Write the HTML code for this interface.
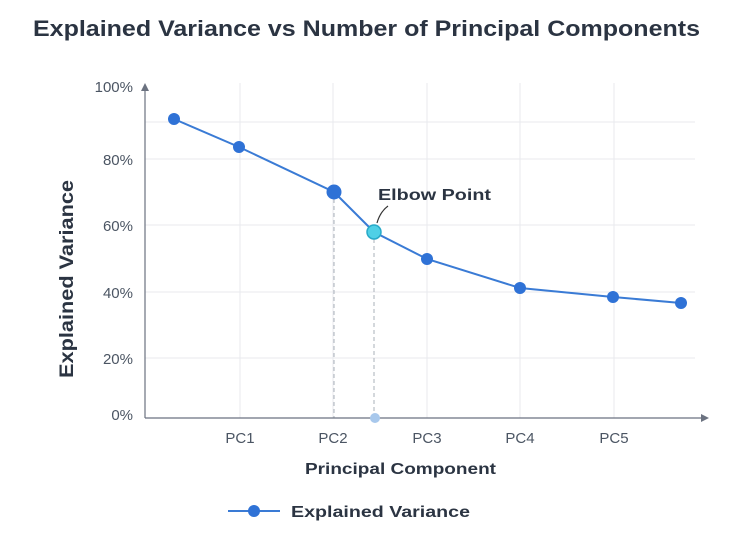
<!DOCTYPE html>
<html><head><style>
body{margin:0;background:#fff;}
svg text{font-family:"Liberation Sans",sans-serif;}
</style></head><body>
<svg width="750" height="537" viewBox="0 0 750 537" xmlns="http://www.w3.org/2000/svg">
<rect width="750" height="537" fill="#fff"/>
<text x="33" y="36" font-size="22" font-weight="bold" fill="#2b3442" textLength="667" lengthAdjust="spacingAndGlyphs">Explained Variance vs Number of Principal Components</text>
<g stroke="#e8eaee" stroke-width="1">
<line x1="145" y1="122" x2="695" y2="122"/>
<line x1="145" y1="159" x2="695" y2="159"/>
<line x1="145" y1="225" x2="695" y2="225"/>
<line x1="145" y1="292" x2="695" y2="292"/>
<line x1="145" y1="358" x2="695" y2="358"/>
<line x1="240" y1="83" x2="240" y2="418"/>
<line x1="333" y1="83" x2="333" y2="418"/>
<line x1="427" y1="83" x2="427" y2="418"/>
<line x1="520" y1="83" x2="520" y2="418"/>
<line x1="614" y1="83" x2="614" y2="418"/>
</g>
<g stroke="#aab0ba" stroke-width="1" stroke-dasharray="4,3">
<line x1="334" y1="192" x2="334" y2="418"/>
<line x1="374" y1="232" x2="374" y2="418"/>
</g>
<line x1="145" y1="418" x2="703" y2="418" stroke="#6b7280" stroke-width="1.2"/>
<polygon points="709,418 701,414 701,422" fill="#6b7280"/>
<line x1="145" y1="418" x2="145" y2="90" stroke="#6b7280" stroke-width="1.2"/>
<polygon points="145,83 141,91 149,91" fill="#6b7280"/>
<g font-size="15" fill="#4b5563" text-anchor="end">
<text x="133" y="92">100%</text>
<text x="133" y="165">80%</text>
<text x="133" y="231">60%</text>
<text x="133" y="298">40%</text>
<text x="133" y="364">20%</text>
<text x="133" y="420">0%</text>
</g>
<g font-size="15" fill="#4b5563" text-anchor="middle">
<text x="240" y="443">PC1</text>
<text x="333" y="443">PC2</text>
<text x="427" y="443">PC3</text>
<text x="520" y="443">PC4</text>
<text x="614" y="443">PC5</text>
</g>
<text x="305" y="474" font-size="16" font-weight="bold" fill="#2b3442" textLength="191" lengthAdjust="spacingAndGlyphs">Principal Component</text>
<text transform="translate(73,378) rotate(-90)" font-size="19" font-weight="bold" fill="#2b3442" textLength="198" lengthAdjust="spacingAndGlyphs">Explained Variance</text>
<polyline points="174,119 239,147 334,192 374,232 427,259 520,288 613,297 681,303" fill="none" stroke="#3a7bd5" stroke-width="2"/>
<g fill="#2f72d6">
<circle cx="174" cy="119" r="6"/>
<circle cx="239" cy="147" r="6"/>
<circle cx="334" cy="192" r="7.5"/>
<circle cx="427" cy="259" r="6"/>
<circle cx="520" cy="288" r="6"/>
<circle cx="613" cy="297" r="6"/>
<circle cx="681" cy="303" r="6"/>
</g>
<circle cx="374" cy="232" r="7" fill="#4fd0e6" stroke="#27a9c8" stroke-width="1.5"/>
<circle cx="375" cy="418" r="5" fill="#a8c8ec"/>
<path d="M377,223 Q380,212 388,206" fill="none" stroke="#333" stroke-width="1.2"/>
<text x="378" y="200" font-size="16" font-weight="bold" fill="#2b3442" textLength="113" lengthAdjust="spacingAndGlyphs">Elbow Point</text>
<line x1="228" y1="511" x2="280" y2="511" stroke="#3a7bd5" stroke-width="2"/>
<circle cx="254" cy="511" r="6" fill="#2f72d6"/>
<text x="291" y="517" font-size="16" font-weight="bold" fill="#2b3442" textLength="179" lengthAdjust="spacingAndGlyphs">Explained Variance</text>
</svg>
</body></html>
